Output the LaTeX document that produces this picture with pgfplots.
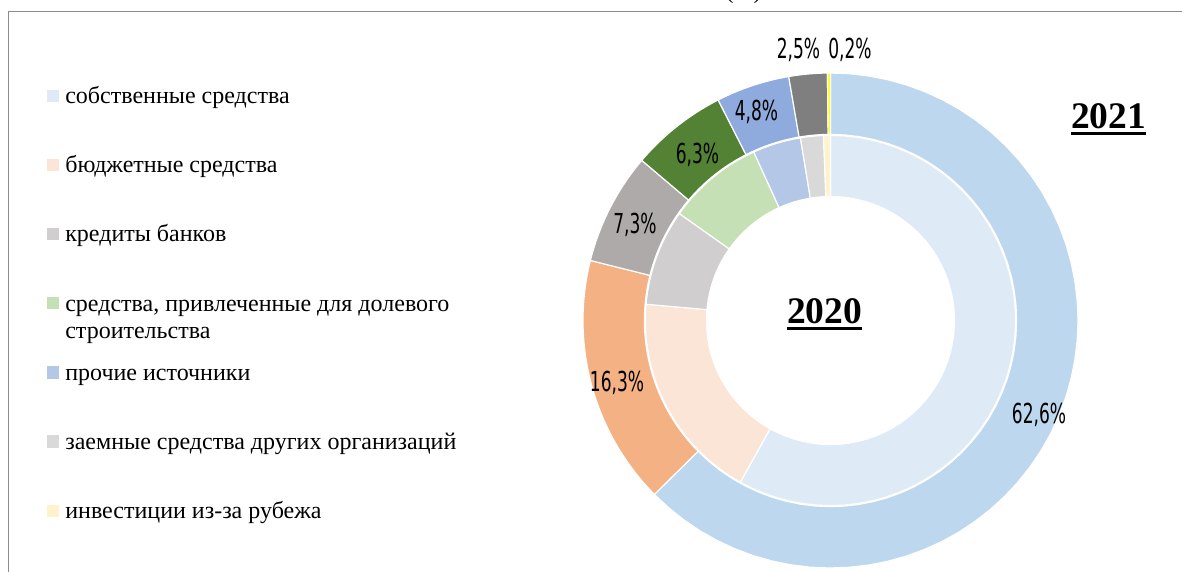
\documentclass[border=0pt]{standalone}
\usepackage{pgfplots}
\pgfplotsset{compat=1.18}
\usepackage{pgfplotstable}
\usepackage{fontspec}
\setmainfont{Liberation Serif}
\newfontfamily\pctfont[FakeStretch=0.62]{DejaVu Sans}

\definecolor{in0}{HTML}{DEEBF7}
\definecolor{in1}{HTML}{FBE5D6}
\definecolor{in2}{HTML}{D0CECE}
\definecolor{in3}{HTML}{C5E0B4}
\definecolor{in4}{HTML}{B4C7E7}
\definecolor{in5}{HTML}{D9D9D9}
\definecolor{in6}{HTML}{FFF2CC}
\definecolor{out0}{HTML}{BDD7EE}
\definecolor{out1}{HTML}{F4B183}
\definecolor{out2}{HTML}{AEAAAA}
\definecolor{out3}{HTML}{548235}
\definecolor{out4}{HTML}{8FAADC}
\definecolor{out5}{HTML}{7F7F7F}
\definecolor{out6}{HTML}{FFFF00}
\definecolor{framecol}{HTML}{8C8C8C}

% shares, %: 2021 (outer ring) and 2020 (inner ring)
\pgfplotstableread{
v21  v20
62.6 58.1
16.3 18.3
7.3  8.4
6.3  8.4
4.8  4.2
2.5  2.0
0.2  0.6
}\shares

\newcommand\drawring[5]{%
  \gdef\astart{90}%
  \pgfplotsforeachungrouped \i in {0,...,6}{%
    \pgfplotstablegetelem{\i}{#1}\of\shares
    \pgfmathsetmacro\aend{\astart-3.6*\pgfplotsretval}%
    \edef\cmd{\noexpand\addplot[slice, fill=#2\i, #5]
      ({\noexpand\t<=150 ? #3*cos((\astart)+((\aend)-(\astart))*\noexpand\t/100) : #4*cos((\aend)+((\astart)-(\aend))*(\noexpand\t-200)/100)},
       {\noexpand\t<=150 ? #3*sin((\astart)+((\aend)-(\astart))*\noexpand\t/100) : #4*sin((\aend)+((\astart)-(\aend))*(\noexpand\t-200)/100)}) -- cycle;}%
    \cmd
    \global\let\astart\aend
  }%
}

\newcommand\ulbox[1]{\setbox0\hbox{#1}\rlap{\rule[-3.9pt]{\wd0}{1.5pt}}\box0}

\begin{document}
\begin{tikzpicture}
\useasboundingbox (0pt,0pt) rectangle (709.2pt,-342.6pt);
\begin{axis}[
  at={(498.3pt,-192.3pt)}, anchor=center,
  x=148.5pt, y=148.5pt,
  xmin=-1.02, xmax=1.02, ymin=-1.02, ymax=1.02,
  hide axis, clip=false,
  slice/.style={draw=white, line width=0.7pt, line join=round, mark=none,
    variable=\t, samples at={0,2,...,100,200,202,...,300}},
  legend image code/.code={\fill[#1,draw=none] (0pt,1pt) rectangle (7.2pt,8.4pt);},
  legend style={at={(rel axis cs:-1.0518,0.9633)}, anchor=north west,
    draw=none, fill=none, inner sep=0pt, row sep=27.5pt, column sep=3.6pt,
    font={\fontsize{14.4pt}{16.6pt}\selectfont},
    cells={anchor=base west},
    nodes={inner sep=0pt, text height=10pt, text depth=4pt}},
]
\drawring{v20}{in}{0.748}{0.501}{}
\drawring{v21}{out}{1.0}{0.752}{forget plot}
\legend{собственные средства, бюджетные средства, кредиты банков,
  {\begin{tabular}[t]{@{}l@{}}средства, привлеченные для долевого\\строительства\end{tabular}},
  прочие источники, заемные средства других организаций, инвестиции из-за рубежа}
\end{axis}
\begin{scope}[x=0.6pt,y=-0.6pt]
\draw[framecol, line width=0.8pt] (8.5,575) -- (8.5,11.3) -- (1186,11.3);
\node[anchor=base, font={\fontsize{14.4pt}{16.6pt}\selectfont}] at (743.5,-1.3) {(\%)};
\node[anchor=base, font={\fontsize{22.5pt}{26pt}\selectfont\bfseries}] at (824.5,323) {\ulbox{2020}};
\node[anchor=base, font={\fontsize{22.5pt}{26pt}\selectfont\bfseries}] at (1108.5,128) {\ulbox{2021}};
\begin{scope}[every node/.style={anchor=base, inner sep=0pt, font={\pctfont\fontsize{16.5pt}{18pt}\selectfont}}]
\node at (798.5,58.3) {2,5\%};
\node at (850,58.3) {0,2\%};
\node at (756.5,120) {4,8\%};
\node at (697.5,163) {6,3\%};
\node at (635,233) {7,3\%};
\node at (617,391) {16,3\%};
\node at (1039,423.3) {62,6\%};
\end{scope}
\end{scope}
\end{tikzpicture}
\end{document}
